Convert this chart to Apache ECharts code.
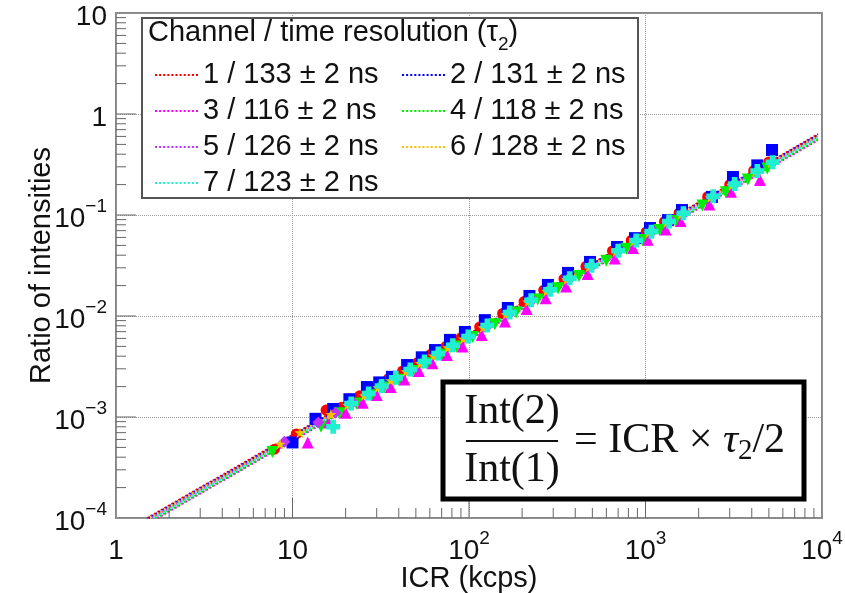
<!DOCTYPE html>
<html>
<head>
<meta charset="utf-8">
<script src="https://cdn.jsdelivr.net/npm/echarts@6/dist/echarts.min.js"></script>
<style>html,body{margin:0;background:#fff}#c{width:845px;height:593px}</style>
</head>
<body>
<div id="c"></div>
<script>
// Razão de intensidades x ICR, 7 canais (log-log), com retas de ajuste pontilhadas.
const canais = ["1 / 133 ± 2 ns", "2 / 131 ± 2 ns", "3 / 116 ± 2 ns", "4 / 118 ± 2 ns",
  "5 / 126 ± 2 ns", "6 / 128 ± 2 ns", "7 / 123 ± 2 ns"];
const cores = ["#ff0000", "#0000ff", "#ff00ff", "#00ee00", "#c030ff", "#ffc000", "#20f0d0"];

// pontos medidos: ICR (kcps) e razão Int(2)/Int(1)
const icr1 = [7.9, 10.5, 15.5, 19, 24, 29, 35, 42, 51, 61, 74, 90, 115, 155, 205, 265, 345, 460, 650, 830, 1010, 1280, 1550, 2250, 3000, 4100, 5000];
const raz1 = [4.8e-4, 6.8e-4, 1.17e-3, 1.25e-3, 1.62e-3, 1.95e-3, 2.4e-3, 2.85e-3, 3.45e-3, 4.2e-3, 5.0e-3, 6.1e-3, 7.8e-3, 0.0106, 0.0139, 0.018, 0.0233, 0.031, 0.044, 0.056, 0.068, 0.086, 0.105, 0.152, 0.2, 0.275, 0.335];
const icr2 = [10, 13.5, 17, 21, 26.4, 31, 36.6, 44.6, 54, 64.2, 78, 94.8, 123, 166, 220, 280, 364, 485, 690, 872, 1060, 1340, 1610, 2380, 3130, 4300, 5210];
const raz2 = [5.6e-4, 9.6e-4, 1.2e-3, 1.5e-3, 1.98e-3, 2.2e-3, 2.5e-3, 3.27e-3, 3.9e-3, 4.6e-3, 5.8e-3, 6.95e-3, 9.1e-3, 0.012, 0.0158, 0.0203, 0.0267, 0.0343, 0.0482, 0.059, 0.0743, 0.089, 0.112, 0.151, 0.238, 0.31, 0.44];
const icr3 = [12.2, 16, 20, 25, 30, 36, 43, 52, 62, 75, 92, 118, 160, 212, 272, 355, 470, 670, 850, 1030, 1300, 1580, 2300, 3050, 4450];
const raz3 = [5.6e-4, 8.8e-4, 1.1e-3, 1.38e-3, 1.65e-3, 1.98e-3, 2.35e-3, 2.85e-3, 3.4e-3, 4.1e-3, 5.0e-3, 6.5e-3, 8.8e-3, 0.0117, 0.015, 0.0196, 0.026, 0.037, 0.047, 0.057, 0.072, 0.087, 0.127, 0.17, 0.222];
const icr4 = [7.7, 14.5, 18.5, 23, 28, 33, 40, 48, 58, 70, 85, 105, 140, 185, 245, 320, 420, 600, 780, 960, 1200, 1480, 2100, 2850, 3800, 4900];
const raz4 = [4.5e-4, 8.0e-4, 1.09e-3, 1.36e-3, 1.64e-3, 1.96e-3, 2.34e-3, 2.85e-3, 3.4e-3, 4.15e-3, 5.0e-3, 6.2e-3, 8.3e-3, 0.0108, 0.0146, 0.0188, 0.0249, 0.0352, 0.0462, 0.0565, 0.071, 0.087, 0.124, 0.168, 0.224, 0.289];
const icr5 = [9, 14, 17.5, 22, 27, 32, 38, 46, 56, 66, 80, 98, 128, 172, 228, 290, 375, 500, 710, 900, 1100, 1390, 1670, 2450, 3250, 4350, 5300];
const raz5 = [5.7e-4, 8.8e-4, 1.1e-3, 1.39e-3, 1.7e-3, 2.02e-3, 2.39e-3, 2.9e-3, 3.53e-3, 4.16e-3, 5.04e-3, 6.17e-3, 8.06e-3, 0.0108, 0.0144, 0.0183, 0.0236, 0.0315, 0.0447, 0.0567, 0.0693, 0.0876, 0.105, 0.154, 0.205, 0.274, 0.334];
const icr6 = [8.5, 11, 16.5, 20.5, 25.5, 30.5, 36, 44, 53, 63, 76, 93, 120, 162, 215, 275, 358, 478, 680, 860, 1045, 1320, 1590, 2330, 3080, 4200, 5150];
const raz6 = [5.4e-4, 7.0e-4, 1.06e-3, 1.31e-3, 1.63e-3, 1.95e-3, 2.3e-3, 2.82e-3, 3.39e-3, 4.03e-3, 4.86e-3, 5.95e-3, 7.68e-3, 0.0104, 0.0138, 0.0176, 0.0229, 0.0306, 0.0435, 0.055, 0.0669, 0.0845, 0.102, 0.149, 0.197, 0.269, 0.33];
const icr7 = [17, 21.5, 27, 32, 38.5, 46.5, 56, 67, 81, 99, 127, 170, 225, 288, 372, 495, 700, 885, 1080, 1360, 1640, 2420, 3200, 4300, 5250];
const raz7 = [8.0e-4, 1.36e-3, 1.71e-3, 2.03e-3, 2.44e-3, 2.95e-3, 3.55e-3, 4.25e-3, 5.13e-3, 6.27e-3, 8.04e-3, 0.0108, 0.0143, 0.0182, 0.0236, 0.0314, 0.0443, 0.056, 0.0684, 0.0861, 0.104, 0.153, 0.203, 0.272, 0.333];

// extremos das retas de ajuste [ICR, razão]
const ajuste1 = [[1.5, 1.0e-4], [9500, 0.632]];
const ajuste2 = [[1.53, 1.0e-4], [9500, 0.622]];
const ajuste3 = [[1.72, 1.0e-4], [9500, 0.551]];
const ajuste4 = [[1.69, 1.0e-4], [9500, 0.561]];
const ajuste5 = [[1.59, 1.0e-4], [9500, 0.599]];
const ajuste6 = [[1.56, 1.0e-4], [9500, 0.608]];
const ajuste7 = [[1.63, 1.0e-4], [9500, 0.584]];

const icrs = [icr1, icr2, icr3, icr4, icr5, icr6, icr7];
const razoes = [raz1, raz2, raz3, raz4, raz5, raz6, raz7];
const ajustes = [ajuste1, ajuste2, ajuste3, ajuste4, ajuste5, ajuste6, ajuste7];

const ESTRELA = "path://M5,0L6.2,3.6L10,3.6L6.9,5.9L8.1,9.5L5,7.3L1.9,9.5L3.1,5.9L0,3.6L3.8,3.6Z";
const CRUZ = "path://M3,0H7V3H10V7H7V10H3V7H0V3H3Z";
const simbolos = ["circle", "rect", "triangle", "path://M0,0H10L5,9Z", "diamond", ESTRELA, CRUZ];
const tamanhos = [11, 12, 12, 12, 12, 11, 14];

// ícone da legenda: linha pontilhada (11 pontos)
let PONTILHADO = "path://";
for (let k = 0; k < 11; k++) PONTILHADO += `M${k * 4},0h2v2h-2z`;

const FONTE = "Liberation Sans, Arial, sans-serif";
const SERIFA = "Liberation Serif, Times New Roman, serif";

// marcas de escala: menores 2..9, maiores nas décadas
const marcasX = [], marcasY = [];
for (const d of [1, 10, 100, 1000]) for (let k = 2; k <= 9; k++) marcasX.push([d * k, 1e-4, 10]);
for (const v of [10, 100, 1000]) marcasX.push([v, 1e-4, 20]);
for (const d of [1e-4, 1e-3, 1e-2, 1e-1, 1]) for (let k = 2; k <= 9; k++) marcasY.push([1, d * k, 10]);
for (const v of [1e-3, 1e-2, 1e-1, 1]) marcasY.push([1, v, 20]);

function rotuloPot(v) {
  const e = Math.round(Math.log10(v));
  if (e === 0) return "{b|1}";
  if (e === 1) return "{b|10}";
  return "{b|10}{s|" + (e < 0 ? "\u2212" + (-e) : e) + "}";
}
const ricoPot = {
  b: { fontSize: 28, lineHeight: 36, fontFamily: FONTE, color: "#111", verticalAlign: "bottom" },
  s: { fontSize: 19, lineHeight: 20, fontFamily: FONTE, color: "#111", verticalAlign: "top" },
};

const series = [];
ajustes.forEach((a, i) => series.push({
  name: canais[i], type: "line", data: a, symbol: "none", z: 2,
  lineStyle: { color: cores[i], width: 2, type: "dotted" }, itemStyle: { color: cores[i] },
}));
icrs.forEach((xs, i) => series.push({
  name: "pontos " + (i + 1), type: "scatter", z: 3,
  data: xs.map((x, j) => [x, razoes[i][j]]),
  symbol: simbolos[i], symbolSize: tamanhos[i],
  itemStyle: { color: cores[i], opacity: 1 },
}));
series.push({
  type: "custom", silent: true, z: 4, data: marcasX, encode: { x: 0, y: 1 },
  renderItem: (p, api) => {
    const c = api.coord([api.value(0), api.value(1)]);
    return { type: "line", shape: { x1: c[0], y1: c[1], x2: c[0], y2: c[1] - api.value(2) },
      style: { stroke: "#666", lineWidth: 1 } };
  },
});
series.push({
  type: "custom", silent: true, z: 4, data: marcasY, encode: { x: 0, y: 1 },
  renderItem: (p, api) => {
    const c = api.coord([api.value(0), api.value(1)]);
    return { type: "line", shape: { x1: c[0], y1: c[1], x2: c[0] + api.value(2), y2: c[1] },
      style: { stroke: "#666", lineWidth: 1 } };
  },
});

const legendaBase = {
  orient: "vertical", icon: PONTILHADO, itemWidth: 43, itemHeight: 3, itemGap: 6, z: 10,
  selectedMode: false,
  textStyle: { fontSize: 29, fontFamily: FONTE, color: "#111", lineHeight: 30 },
};

const g = echarts.init(document.getElementById("c"));
g.setOption({
  animation: false,
  backgroundColor: "#fff",
  grid: { left: 116, right: 23, top: 13, bottom: 75, outerBoundsMode: "none",
    show: true, borderColor: "#888", borderWidth: 2 },
  xAxis: {
    type: "log", min: 1, max: 10000, logBase: 10,
    name: "ICR (kcps)", nameLocation: "middle", nameGap: 46, nameMoveOverlap: false,
    nameTextStyle: { fontSize: 29, fontFamily: FONTE, color: "#111" },
    axisLine: { show: false }, axisTick: { show: false },
    axisLabel: { formatter: rotuloPot, rich: ricoPot, margin: 11 },
    splitLine: { show: true, lineStyle: { color: "#999", type: "dotted", width: 1 } },
  },
  yAxis: {
    type: "log", min: 1e-4, max: 10, logBase: 10,
    name: "Ratio of intensities", nameLocation: "middle", nameGap: 60, nameMoveOverlap: false,
    nameTextStyle: { fontSize: 29, fontFamily: FONTE, color: "#111" },
    axisLine: { show: false }, axisTick: { show: false },
    axisLabel: { formatter: rotuloPot, rich: ricoPot, margin: 9 },
    splitLine: { show: true, lineStyle: { color: "#999", type: "dotted", width: 1 } },
  },
  legend: [
    { ...legendaBase, left: 150, top: 55, data: [canais[0], canais[2], canais[4], canais[6]] },
    { ...legendaBase, left: 397, top: 55, data: [canais[1], canais[3], canais[5]] },
  ],
  graphic: [
    { type: "rect", z: 8, shape: { x: 142, y: 18, width: 496, height: 180 },
      style: { fill: "#fff", stroke: "#555", lineWidth: 2 } },
    { type: "text", z: 9, x: 148, y: 36,
      style: { text: "{n|Channel / time resolution (\u03c4}{s|2}{n|)}", verticalAlign: "middle",
        rich: { n: { fontSize: 29, fontFamily: FONTE, fill: "#111", lineHeight: 36, verticalAlign: "top" },
                s: { fontSize: 19, fontFamily: FONTE, fill: "#111", lineHeight: 36, verticalAlign: "bottom" } } } },
    { type: "rect", z: 8, shape: { x: 443, y: 382, width: 361, height: 117 },
      style: { fill: "#fff", stroke: "#000", lineWidth: 5 } },
    { type: "text", z: 9, x: 512, y: 412,
      style: { text: "Int(2)", font: "42px " + SERIFA, fill: "#111", align: "center", verticalAlign: "middle" } },
    { type: "line", z: 9, shape: { x1: 466, y1: 441, x2: 558, y2: 441 }, style: { stroke: "#111", lineWidth: 2 } },
    { type: "text", z: 9, x: 512, y: 470,
      style: { text: "Int(1)", font: "42px " + SERIFA, fill: "#111", align: "center", verticalAlign: "middle" } },
    { type: "text", z: 9, x: 574, y: 441,
      style: { text: "{n|= ICR \u00d7 }{t|\u03c4}{s|2}{n|/2}", verticalAlign: "middle",
        rich: { n: { fontSize: 42, fontFamily: SERIFA, fill: "#111", lineHeight: 50 },
                t: { fontSize: 42, fontFamily: SERIFA, fontStyle: "italic", fill: "#111", lineHeight: 50 },
                s: { fontSize: 29, fontFamily: SERIFA, fill: "#111", lineHeight: 40, verticalAlign: "bottom" } } } },
  ],
  series,
});
</script>
</body>
</html>
